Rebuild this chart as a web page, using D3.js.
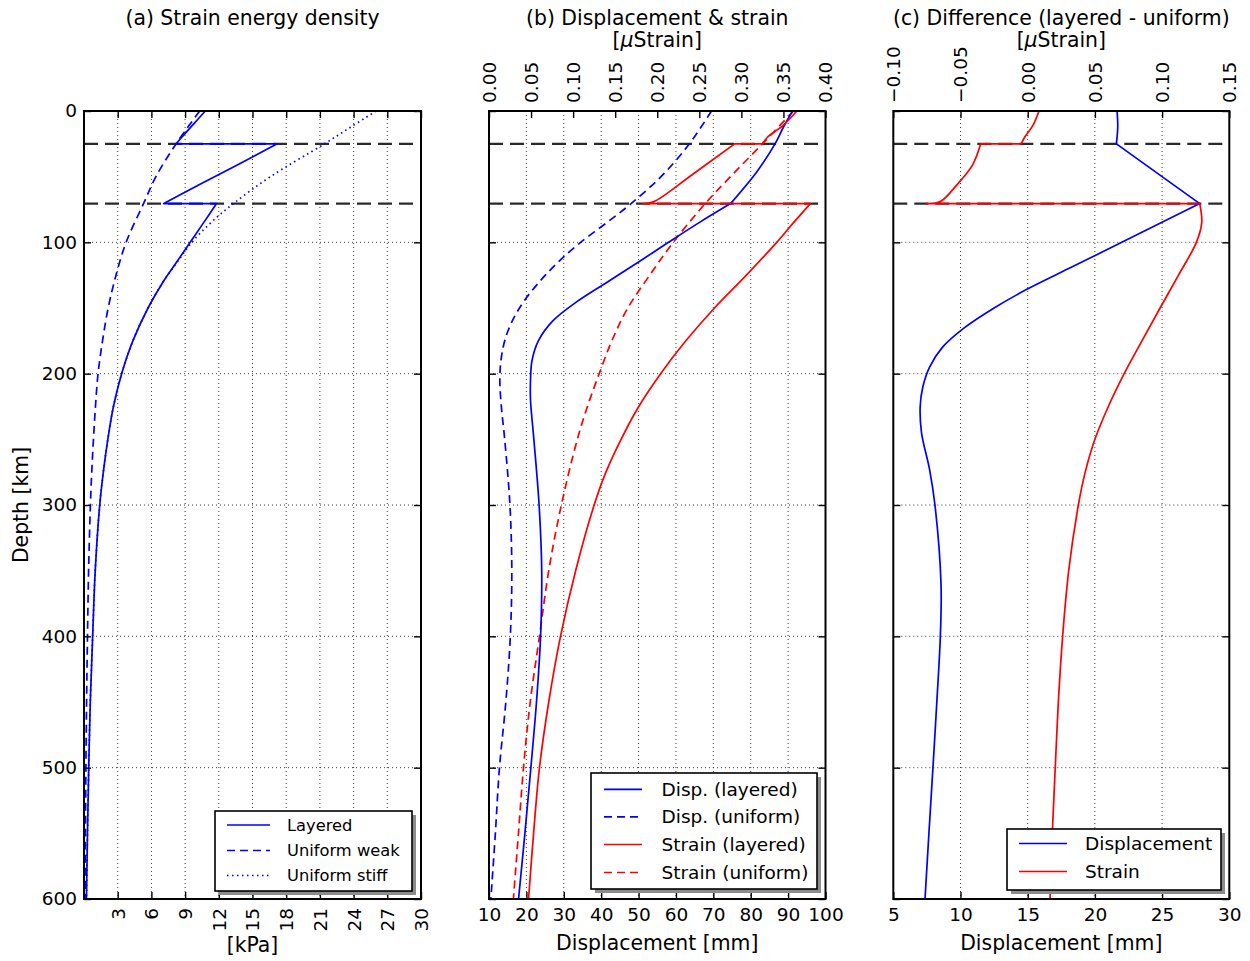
<!DOCTYPE html>
<html>
<head>
<meta charset="utf-8">
<script src="https://cdn.jsdelivr.net/npm/d3@7"></script>
<style>
  body { margin: 0; background: #fff; }
  svg { display: block; }
  text { font-family: "DejaVu Sans", sans-serif; fill: #000; }
</style>
</head>
<body>
<svg id="chart" width="1250" height="961"></svg>
<script>
// ---- shared depth axis ----
const depthTicks = [0, 100, 200, 300, 400, 500, 600];
const depthGrid = [100, 200, 300, 400, 500];
const layerBoundaries = [25, 70.5];

// ---- (a) strain energy density [kPa] ----
// a repeated depth starts a new piece of the profile (step or kink at a layer boundary)
const sedTicks = [3, 6, 9, 12, 15, 18, 21, 24, 27, 30];
const sedLayeredDepth = [0, 10, 20, 25, 25, 40, 55, 70.5, 70.5, 85, 100, 115, 130, 150, 175, 200, 225, 250, 275, 300, 350, 400, 450, 500, 550, 600];
const sedLayered      = [10.8, 9.75, 8.7, 8.2, 17.2, 13.9, 10.5, 7.1, 11.8, 10.65, 9.45, 8.25, 7.05, 5.7, 4.35, 3.35, 2.62, 2.12, 1.72, 1.4, 1.0, 0.77, 0.56, 0.42, 0.31, 0.22];
const sedWeakDepth = [0, 25, 50, 70.5, 100, 125, 150, 175, 200, 225, 250, 275, 300, 350, 400, 450, 500, 550, 600];
const sedWeak      = [10.3, 8.2, 6.4, 5.3, 3.75, 2.85, 2.15, 1.65, 1.25, 1.02, 0.84, 0.69, 0.57, 0.41, 0.31, 0.23, 0.17, 0.13, 0.1];
const sedStiffDepth = [0, 12.5, 25, 50, 70.5, 85, 100, 115, 130, 150, 175, 200, 225, 250, 275, 300, 350, 400, 450, 500, 550, 600];
const sedStiff      = [26.0, 23.7, 21.4, 16.6, 13.3, 11.3, 9.6, 8.3, 7.05, 5.7, 4.35, 3.35, 2.62, 2.12, 1.72, 1.4, 1.0, 0.77, 0.56, 0.42, 0.31, 0.22];

// ---- (b) displacement [mm] and strain [µStrain] ----
const dispTicks = [10, 20, 30, 40, 50, 60, 70, 80, 90, 100];
const strainTicks = [0.00, 0.05, 0.10, 0.15, 0.20, 0.25, 0.30, 0.35, 0.40];
const dispLayeredDepth = [0, 12, 25, 46, 70.5, 70.5, 85, 100, 115, 130, 145, 160, 175, 190, 205, 220, 250, 300, 350, 400, 450, 500, 550, 600];
const dispLayered      = [91.2, 88.8, 86.5, 81.7, 74.6, 74.6, 66.2, 58.0, 50.0, 41.8, 33.6, 27.0, 23.2, 21.5, 21.1, 21.1, 22.0, 23.4, 24.1, 23.8, 22.7, 21.2, 19.6, 17.9];
const dispUniformDepth = [0, 25, 50, 70.5, 85, 100, 115, 130, 145, 160, 175, 190, 205, 225, 250, 300, 350, 400, 450, 500, 550, 600];
const dispUniform      = [69.5, 63.6, 56.0, 48.0, 41.5, 34.5, 28.5, 23.5, 19.3, 16.2, 14.2, 13.2, 12.9, 13.3, 14.2, 15.6, 16.1, 15.7, 14.5, 12.8, 11.7, 10.5];
const strainLayeredDepth = [0, 10.7, 20, 25, 25, 48.7, 69, 70.5, 70.5, 85, 100, 125, 150, 175, 200, 225, 250, 275, 300, 350, 400, 450, 500, 550, 600];
const strainLayered      = [0.366, 0.350, 0.331, 0.325, 0.292, 0.241, 0.196, 0.183, 0.382, 0.362, 0.342, 0.306, 0.268, 0.234, 0.204, 0.178, 0.157, 0.139, 0.125, 0.103, 0.085, 0.071, 0.060, 0.053, 0.047];
const strainUniformDepth = [0, 25, 50, 70.5, 100, 125, 150, 175, 200, 225, 250, 300, 350, 400, 450, 500, 550, 600];
const strainUniform      = [0.362, 0.325, 0.287, 0.257, 0.219, 0.191, 0.165, 0.146, 0.131, 0.117, 0.105, 0.086, 0.071, 0.060, 0.049, 0.041, 0.035, 0.029];

// ---- (c) difference, layered - uniform ----
const diffDispTicks = [5, 10, 15, 20, 25, 30];
const diffStrainTicks = [-0.10, -0.05, 0.00, 0.05, 0.10, 0.15];
const diffDispDepth = [0, 12, 25, 25, 70.5, 70.5, 100, 120, 136, 150, 165, 180, 195, 210, 225, 245, 273, 300, 360, 400, 448, 500, 550, 600];
const diffDisp      = [21.65, 21.7, 21.6, 21.6, 27.8, 27.8, 22.0, 18.05, 14.9, 12.5, 10.3, 8.65, 7.7, 7.2, 7.0, 7.1, 7.7, 8.1, 8.55, 8.5, 8.25, 7.95, 7.65, 7.36];
const diffStrainDepth = [0, 10.7, 20, 25, 25, 41, 56.6, 69, 70.5, 70.5, 85, 100, 125, 150, 175, 200, 225, 250, 275, 300, 350, 400, 450, 500, 550, 600];
const diffStrain      = [0.0084, 0.004, -0.0023, -0.0048, -0.035, -0.041, -0.053, -0.065, -0.075, 0.128, 0.1295, 0.1255, 0.1122, 0.0985, 0.085, 0.0718, 0.060, 0.050, 0.0428, 0.0377, 0.0305, 0.026, 0.0228, 0.0205, 0.0183, 0.0166];

// ---- layout ----
const svg = d3.select("#chart");
const plotTop = 111, plotBottom = 899;
const panels = [
  { left: 84, right: 421 },
  { left: 489, right: 825.5 },
  { left: 893.3, right: 1229.3 }
];
const y = d3.scaleLinear().domain([0, 600]).range([plotTop, plotBottom]);

const xA = d3.scaleLinear().domain([0, 30]).range([panels[0].left, panels[0].right]);
const xBdisp = d3.scaleLinear().domain([10, 100]).range([panels[1].left, panels[1].right]);
const xBstrain = d3.scaleLinear().domain([0, 0.4]).range([panels[1].left, panels[1].right]);
const xCdisp = d3.scaleLinear().domain([5, 30]).range([panels[2].left, panels[2].right]);
const xCstrain = d3.scaleLinear().domain([-0.1, 0.15]).range([panels[2].left, panels[2].right]);

const BLUE = "#0000ff", RED = "#ff0000";
const TICK_FS = 18.5, LABEL_FS = 20.4;
const fmt2 = v => (v < 0 ? "\u2212" : "") + Math.abs(v).toFixed(2);

// path through a depth profile; repeated depths split it into smooth pieces
function profilePath(depths, values, x) {
  const pts = depths.map((d, i) => [x(values[i]), y(d)]);
  const segs = [[pts[0]]];
  for (let i = 1; i < pts.length; i++) {
    if (depths[i] === depths[i - 1]) segs.push([pts[i]]);
    else segs[segs.length - 1].push(pts[i]);
  }
  const line = d3.line().curve(d3.curveCatmullRom.alpha(0.5));
  return segs.map((s, k) => { const p = line(s); return k === 0 ? p : "L" + p.slice(1); }).join("");
}

function grid(p, xs) {
  const g = svg.append("g").attr("stroke", "#000").attr("stroke-width", 1)
    .attr("stroke-dasharray", "1,3").attr("opacity", 0.75);
  g.selectAll(".gx").data(xs).join("line")
    .attr("x1", d => d).attr("x2", d => d).attr("y1", plotTop).attr("y2", plotBottom);
  g.selectAll(".gy").data(depthGrid).join("line")
    .attr("x1", p.left).attr("x2", p.right).attr("y1", d => y(d)).attr("y2", d => y(d));
}

function layers(p) {
  svg.append("g").selectAll("line").data(layerBoundaries).join("line")
    .attr("x1", p.left).attr("x2", p.right)
    .attr("y1", d => y(d)).attr("y2", d => y(d))
    .attr("stroke", "#2a2a2a").attr("stroke-width", 2.2).attr("stroke-dasharray", "14,7");
}

function curve(depths, values, x, color, dash) {
  svg.append("path").attr("d", profilePath(depths, values, x))
    .attr("fill", "none").attr("stroke", color).attr("stroke-width", 1.7)
    .attr("stroke-linejoin", "round")
    .attr("stroke-dasharray", dash || null);
}

function styleAxis(g) {
  g.select(".domain").remove();
  g.selectAll(".tick line").attr("stroke", "#000").attr("stroke-width", 1.4);
  g.selectAll("text").attr("font-size", TICK_FS).attr("font-family", "DejaVu Sans");
}

function frameAndDepthAxes(p, withLabels) {
  const left = svg.append("g").attr("transform", `translate(${p.left},0)`)
    .call(d3.axisLeft(y).tickValues(depthTicks).tickSize(-7).tickPadding(7)
      .tickFormat(withLabels ? d3.format("d") : ""));
  styleAxis(left);
  const right = svg.append("g").attr("transform", `translate(${p.right},0)`)
    .call(d3.axisRight(y).tickValues(depthTicks).tickSize(-7).tickFormat(""));
  styleAxis(right);
  svg.append("rect").attr("x", p.left).attr("y", plotTop)
    .attr("width", p.right - p.left).attr("height", plotBottom - plotTop)
    .attr("fill", "none").attr("stroke", "#000").attr("stroke-width", 2);
}

function bottomAxis(scale, ticks, fmt, rotated) {
  const g = svg.append("g").attr("transform", `translate(0,${plotBottom})`)
    .call(d3.axisBottom(scale).tickValues(ticks).tickSize(-7).tickPadding(9).tickFormat(fmt));
  styleAxis(g);
  if (rotated) {
    g.selectAll("text").attr("x", 0).attr("y", 0).attr("dy", "0.35em")
      .attr("text-anchor", "end").attr("transform", "translate(0,9) rotate(-90)");
  }
  return g;
}

function topAxis(scale, ticks, fmt) {
  const g = svg.append("g").attr("transform", `translate(0,${plotTop})`)
    .call(d3.axisTop(scale).tickValues(ticks).tickSize(-7).tickFormat(fmt || ""));
  styleAxis(g);
  if (fmt) {
    g.selectAll("text").attr("x", 0).attr("y", 0).attr("dy", "0.35em")
      .attr("text-anchor", "start").attr("transform", "translate(0,-8) rotate(-90)");
  }
  return g;
}

function title(p, txt) {
  svg.append("text").attr("x", (p.left + p.right) / 2).attr("y", 25)
    .attr("text-anchor", "middle").attr("font-size", LABEL_FS).text(txt);
}

function strainUnit(p) {
  const t = svg.append("text").attr("x", (p.left + p.right) / 2).attr("y", 46.5)
    .attr("text-anchor", "middle").attr("font-size", LABEL_FS);
  t.append("tspan").text("[");
  t.append("tspan").attr("font-style", "italic").text("\u03bc");
  t.append("tspan").text("Strain]");
}

function xLabel(p, txt, yy) {
  svg.append("text").attr("x", (p.left + p.right) / 2).attr("y", yy)
    .attr("text-anchor", "middle").attr("font-size", LABEL_FS).text(txt);
}

function legend(box, items, fs) {
  const g = svg.append("g");
  g.append("rect").attr("x", box.x + 4).attr("y", box.y + 4)
    .attr("width", box.w).attr("height", box.h).attr("fill", "#8c8c8c");
  g.append("rect").attr("x", box.x).attr("y", box.y)
    .attr("width", box.w).attr("height", box.h)
    .attr("fill", "#fff").attr("stroke", "#000").attr("stroke-width", 1.6);
  items.forEach((it, i) => {
    const yy = box.rows[i];
    g.append("line").attr("x1", box.l0).attr("x2", box.l1).attr("y1", yy).attr("y2", yy)
      .attr("stroke", it.color).attr("stroke-width", 1.7)
      .attr("stroke-dasharray", it.dash || null);
    g.append("text").attr("x", box.tx).attr("y", yy).attr("dy", "0.35em")
      .attr("font-size", fs).text(it.label);
  });
}

// ================= (a) =================
const pA = panels[0];
grid(pA, sedTicks.filter(v => v < 30).map(xA));
layers(pA);
curve(sedStiffDepth, sedStiff, xA, BLUE, "1.5,3.5");
curve(sedWeakDepth, sedWeak, xA, BLUE, "8,5");
curve(sedLayeredDepth, sedLayered, xA, BLUE);
frameAndDepthAxes(pA, true);
bottomAxis(xA, sedTicks, d3.format("d"), true);
topAxis(xA, sedTicks);
title(pA, "(a) Strain energy density");
xLabel(pA, "[kPa]", 952);
svg.append("text").attr("transform", "translate(28,505) rotate(-90)")
  .attr("text-anchor", "middle").attr("font-size", LABEL_FS).text("Depth [km]");
legend({ x: 215, y: 811, w: 197, h: 80, l0: 227, l1: 270, tx: 287, rows: [825, 850.5, 875.5] }, [
  { label: "Layered", color: BLUE },
  { label: "Uniform weak", color: BLUE, dash: "8,5" },
  { label: "Uniform stiff", color: BLUE, dash: "1.5,3.5" }
], 16.3);

// ================= (b) =================
const pB = panels[1];
grid(pB, dispTicks.filter(v => v > 10 && v < 100).map(xBdisp));
layers(pB);
curve(dispUniformDepth, dispUniform, xBdisp, BLUE, "8,5");
curve(strainUniformDepth, strainUniform, xBstrain, RED, "8,5");
curve(dispLayeredDepth, dispLayered, xBdisp, BLUE);
curve(strainLayeredDepth, strainLayered, xBstrain, RED);
frameAndDepthAxes(pB, false);
bottomAxis(xBdisp, dispTicks, d3.format("d"), false);
topAxis(xBstrain, strainTicks, fmt2);
title(pB, "(b) Displacement & strain");
strainUnit(pB);
xLabel(pB, "Displacement [mm]", 950);
legend({ x: 591, y: 773, w: 226, h: 116, l0: 604, l1: 642, tx: 661.5, rows: [789.3, 816.9, 844.5, 872.5] }, [
  { label: "Disp. (layered)", color: BLUE },
  { label: "Disp. (uniform)", color: BLUE, dash: "8,5" },
  { label: "Strain (layered)", color: RED },
  { label: "Strain (uniform)", color: RED, dash: "8,5" }
], 18.5);

// ================= (c) =================
const pC = panels[2];
grid(pC, diffDispTicks.filter(v => v > 5 && v < 30).map(xCdisp));
layers(pC);
curve(diffDispDepth, diffDisp, xCdisp, BLUE);
curve(diffStrainDepth, diffStrain, xCstrain, RED);
frameAndDepthAxes(pC, false);
bottomAxis(xCdisp, diffDispTicks, d3.format("d"), false);
topAxis(xCstrain, diffStrainTicks, fmt2);
title(pC, "(c) Difference (layered - uniform)");
strainUnit(pC);
xLabel(pC, "Displacement [mm]", 950);
legend({ x: 1007, y: 829, w: 214, h: 61, l0: 1019, l1: 1067, tx: 1085, rows: [843.5, 871.5] }, [
  { label: "Displacement", color: BLUE },
  { label: "Strain", color: RED }
], 18.5);
</script>
</body>
</html>
